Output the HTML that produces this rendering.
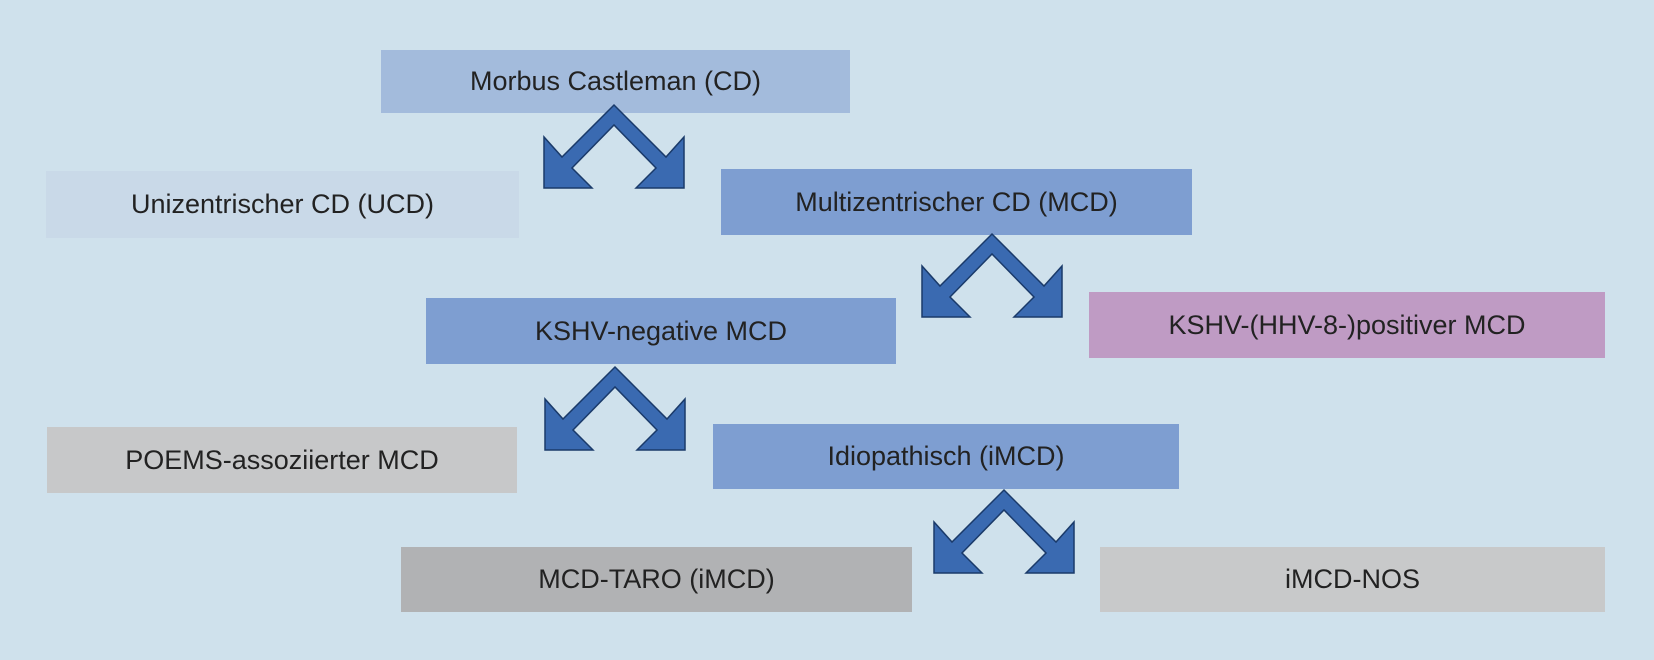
<!DOCTYPE html>
<html><head><meta charset="utf-8"><style>
body{margin:0;width:1654px;height:660px;background:#cfe1ec;position:relative;overflow:hidden;font-family:"Liberation Sans",sans-serif;}
.b{position:absolute;display:flex;align-items:center;justify-content:center;font-size:27px;color:#222;}
svg{position:absolute;left:0;top:0;}
</style></head><body>
<div class="b" style="left:381px;top:50px;width:469px;height:63px;background:#a3bbdc">Morbus Castleman (CD)</div>
<div class="b" style="left:46px;top:171px;width:473px;height:67px;background:#c9d9e8">Unizentrischer CD (UCD)</div>
<div class="b" style="left:721px;top:169px;width:471px;height:66px;background:#7e9ed1">Multizentrischer CD (MCD)</div>
<div class="b" style="left:426px;top:298px;width:470px;height:66px;background:#7e9ed1">KSHV-negative MCD</div>
<div class="b" style="left:1089px;top:292px;width:516px;height:66px;background:#bf9bc4">KSHV-(HHV-8-)positiver MCD</div>
<div class="b" style="left:47px;top:427px;width:470px;height:66px;background:#c7c8c9">POEMS-assoziierter MCD</div>
<div class="b" style="left:713px;top:424px;width:466px;height:65px;background:#7e9ed1">Idiopathisch (iMCD)</div>
<div class="b" style="left:401px;top:547px;width:511px;height:65px;background:#b1b2b4">MCD-TARO (iMCD)</div>
<div class="b" style="left:1100px;top:547px;width:505px;height:65px;background:#c8c9ca">iMCD-NOS</div>
<svg width="1654" height="660">
<defs><polygon id="a" points="0,0 52,52 70,32 70,83 22,83 42,63 0,20 -42,63 -22,83 -70,83 -70,32 -52,52" fill="#3a6ab1" stroke="#1a3a6a" stroke-width="1.5" stroke-linejoin="miter"/></defs>
<use href="#a" transform="translate(614,105)"/>
<use href="#a" transform="translate(992,234)"/>
<use href="#a" transform="translate(615,367)"/>
<use href="#a" transform="translate(1004,490)"/>
</svg>
</body></html>
